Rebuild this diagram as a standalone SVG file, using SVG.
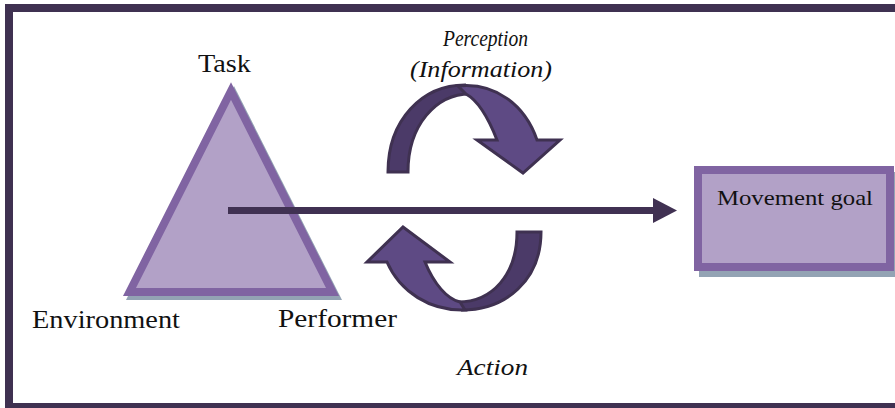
<svg xmlns="http://www.w3.org/2000/svg" width="895" height="408" viewBox="0 0 895 408">
<style>
.lbl{font-family:"Liberation Serif","DejaVu Serif",serif;font-size:26px;fill:#111}
.it{font-style:italic;font-size:24px}
.box{font-size:22px}
.shape{fill:#b2a1c7;stroke:#8064a2;stroke-width:8}
.shadow{fill:#93a3b4}
.dark{fill:#4b3a68;stroke:#3f3151;stroke-width:3;stroke-linejoin:miter}
.light{fill:#5e4a84;stroke:#3f3151;stroke-width:3;stroke-linejoin:miter}
</style>
<rect width="895" height="408" fill="#fff"/>
<rect x="9" y="8" width="895" height="399" fill="none" stroke="#3f3151" stroke-width="8"/>
<g id="triangle">
<polygon class="shadow" points="234,86 126,300 342,300"/>
<polygon class="shape" points="231,91 129.5,292 332.5,292"/>
<text class="lbl" x="198" y="72" textLength="53" lengthAdjust="spacingAndGlyphs">Task</text>
<text class="lbl" x="32" y="328" textLength="148" lengthAdjust="spacingAndGlyphs">Environment</text>
<text class="lbl" x="278" y="327" textLength="119" lengthAdjust="spacingAndGlyphs">Performer</text>
</g>
<g id="goal">
<rect class="shadow" x="699" y="172" width="196" height="105"/>
<rect class="shape" x="698" y="170" width="192" height="97"/>
<text class="lbl box" x="717" y="205" textLength="156" lengthAdjust="spacingAndGlyphs">Movement goal</text>
</g>
<g id="perception">
<path class="dark" d="M388,172 C388,120 422,85 465,85 L470,94 C436,94 408,125 408,172 Z"/>
<path class="light" d="M458,86 C495,82 525,105 537,140 L560,140 L523,173 L477,140 L497,140 C488,117 477,100 466,94 Z"/>
<text class="lbl it" x="443" y="46" textLength="85" lengthAdjust="spacingAndGlyphs">Perception</text>
<text class="lbl it" x="410" y="77" textLength="142" lengthAdjust="spacingAndGlyphs">(Information)</text>
</g>
<g id="action">
<path class="dark" d="M517,232 L541,232 C541,280 506,310 462,310 L458,302 C492,302 517,275 517,232 Z"/>
<path class="light" d="M465,310 C430,311 400,292 387,262 L367,262 L403,227 L450,262 L425,262 C434,284 447,299 460,302 Z"/>
<text class="lbl it" x="457" y="375" textLength="71" lengthAdjust="spacingAndGlyphs">Action</text>
</g>
<g id="connectors">
<line x1="228" y1="210.5" x2="654" y2="210.5" stroke="#403152" stroke-width="7"/>
<polygon points="653,198 677,210.5 653,223" fill="#403152"/>
</g>
</svg>
